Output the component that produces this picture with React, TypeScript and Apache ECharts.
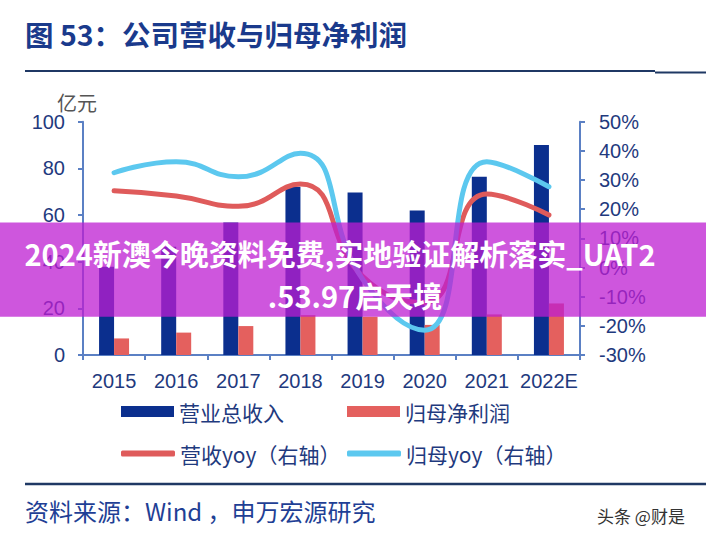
import React, { useEffect, useRef } from "react";
import * as echarts from "echarts";

const categories = ["2015", "2016", "2017", "2018", "2019", "2020", "2021", "2022E"];
const revenue = [37.8, 46.4, 56.8, 72.1, 69.6, 61.9, 76.4, 90.0];
const netProfit = [7.1, 9.6, 12.4, 17.1, 16.4, 12.9, 17.4, 22.1];
const revenueYoy = [26.3, 24.5, 21.0, 28.6, -3.0, -12.0, 25.2, 18.0];
const profitYoy = [32.5, 36.3, 31.1, 39.2, -4.0, -21.5, 36.3, 27.7];

const NAVY = "#0b2f8e";
const RED_BAR = "#e4605e";
const RED_LINE = "#df5b5b";
const BLUE_LINE = "#5cc8ef";
const AXIS = "#5b80c4";
const LABEL = "#1f3a7e";
const CJK = "'Noto Sans CJK SC', 'Liberation Sans', sans-serif";
const NUM = "'Liberation Sans', Arial, sans-serif";

export default function App() {
  const ref = useRef<HTMLDivElement>(null);
  useEffect(() => {
    if (!ref.current) return;
    const chart = echarts.init(ref.current, null, { renderer: "svg" });
    const legendBase = {
      orient: "horizontal",
      padding: 0,
      itemGap: 0,
      textStyle: { color: LABEL, fontSize: 21, fontFamily: CJK, padding: [0, 0, 0, 0] },
    };
    chart.setOption({
      animation: false,
      backgroundColor: "#ffffff",
      grid: { left: 83, right: 126, top: 121.7, bottom: 188, containLabel: false },
      xAxis: {
        type: "category",
        data: categories,
        axisLine: { lineStyle: { color: AXIS, width: 2 } },
        axisTick: { show: true, length: 5, lineStyle: { color: AXIS, width: 2 } },
        axisLabel: { color: LABEL, fontSize: 20, fontFamily: NUM, margin: 16, interval: 0 },
      },
      yAxis: [
        {
          type: "value",
          min: 0,
          max: 100,
          interval: 20,
          position: "left",
          splitLine: { show: false },
          axisLine: { show: true, lineStyle: { color: AXIS, width: 2 } },
          axisTick: { show: true, length: 5, lineStyle: { color: AXIS, width: 2 } },
          axisLabel: { color: LABEL, fontSize: 20, fontFamily: NUM, margin: 18 },
        },
        {
          type: "value",
          min: -30,
          max: 50,
          interval: 10,
          position: "right",
          splitLine: { show: false },
          axisLine: { show: true, lineStyle: { color: AXIS, width: 2 } },
          axisTick: { show: true, length: 5, lineStyle: { color: AXIS, width: 2 } },
          axisLabel: { color: LABEL, fontSize: 20, fontFamily: NUM, margin: 19, formatter: "{value}%" },
        },
      ],
      legend: [
        { ...legendBase, data: [{ name: "营业总收入", icon: "rect" }], left: 121, top: 401, itemWidth: 53, itemHeight: 11 },
        { ...legendBase, data: [{ name: "归母净利润", icon: "rect" }], left: 347, top: 401, itemWidth: 53, itemHeight: 11 },
        { ...legendBase, data: [{ name: "营收yoy（右轴）", icon: "roundRect" }], left: 121, top: 443, itemWidth: 54, itemHeight: 6 },
        { ...legendBase, data: [{ name: "归母yoy（右轴）", icon: "roundRect" }], left: 347, top: 443, itemWidth: 54, itemHeight: 6 },
      ],
      series: [
        { name: "营业总收入", type: "bar", data: revenue, barWidth: 15, barGap: "0%", itemStyle: { color: NAVY } },
        { name: "归母净利润", type: "bar", data: netProfit, barWidth: 15, barGap: "0%", itemStyle: { color: RED_BAR } },
        {
          name: "营收yoy（右轴）", type: "line", yAxisIndex: 1, data: revenueYoy, smooth: 0.5,
          symbol: "none", lineStyle: { color: RED_LINE, width: 5, cap: "round" }, itemStyle: { color: RED_LINE },
        },
        {
          name: "归母yoy（右轴）", type: "line", yAxisIndex: 1, data: profitYoy, smooth: 0.5,
          symbol: "none", lineStyle: { color: BLUE_LINE, width: 5, cap: "round" }, itemStyle: { color: BLUE_LINE },
        },
      ],
      graphic: [
        { type: "text", left: 25, top: 19, style: { text: "图 53：公司营收与归母净利润", fill: "#1a3a8c", font: `bold 28.5px ${CJK}` } },
        { type: "line", shape: { x1: 25, y1: 71, x2: 655, y2: 71 }, style: { stroke: "#1f3864", lineWidth: 2 } },
        { type: "line", shape: { x1: 655, y1: 72.5, x2: 706, y2: 72.5 }, style: { stroke: "#1f3864", lineWidth: 2 } },
        { type: "text", left: 57, top: 92, style: { text: "亿元", fill: "#555555", font: `20px ${CJK}` } },
        { type: "line", shape: { x1: 25, y1: 484, x2: 706, y2: 484 }, style: { stroke: "#1f3864", lineWidth: 2.5 } },
        { type: "text", left: 25, top: 498, style: { text: "资料来源：Wind ，申万宏源研究", fill: "#1f3f95", font: `24px ${CJK}` } },
        { type: "text", left: 597, top: 507, style: { text: "头条 @财是", fill: "#333333", font: `17px ${CJK}` } },
        {
          type: "rect", z: 100, shape: { x: 0, y: 222.5, width: 706, height: 94.2 },
          style: { fill: "rgba(190,30,210,0.75)" },
        },
        {
          type: "text", z: 101, x: 340, y: 253,
          style: {
            text: "2024新澳今晚资料免费,实地验证解析落实_UAT2", fill: "#ffffff",
            font: `bold 29px ${CJK}`, align: "center", verticalAlign: "middle",
            shadowColor: "rgba(0,0,0,0.3)", shadowBlur: 2, shadowOffsetX: 1, shadowOffsetY: 1,
          },
        },
        {
          type: "text", z: 101, x: 355, y: 295,
          style: {
            text: ".53.97启天境", fill: "#ffffff",
            font: `bold 29px ${CJK}`, align: "center", verticalAlign: "middle",
            shadowColor: "rgba(0,0,0,0.3)", shadowBlur: 2, shadowOffsetX: 1, shadowOffsetY: 1,
          },
        },
      ],
    });
    return () => chart.dispose();
  }, []);
  return <div ref={ref} style={{ width: 706, height: 543, position: "absolute", left: 0, top: 0 }} />;
}
